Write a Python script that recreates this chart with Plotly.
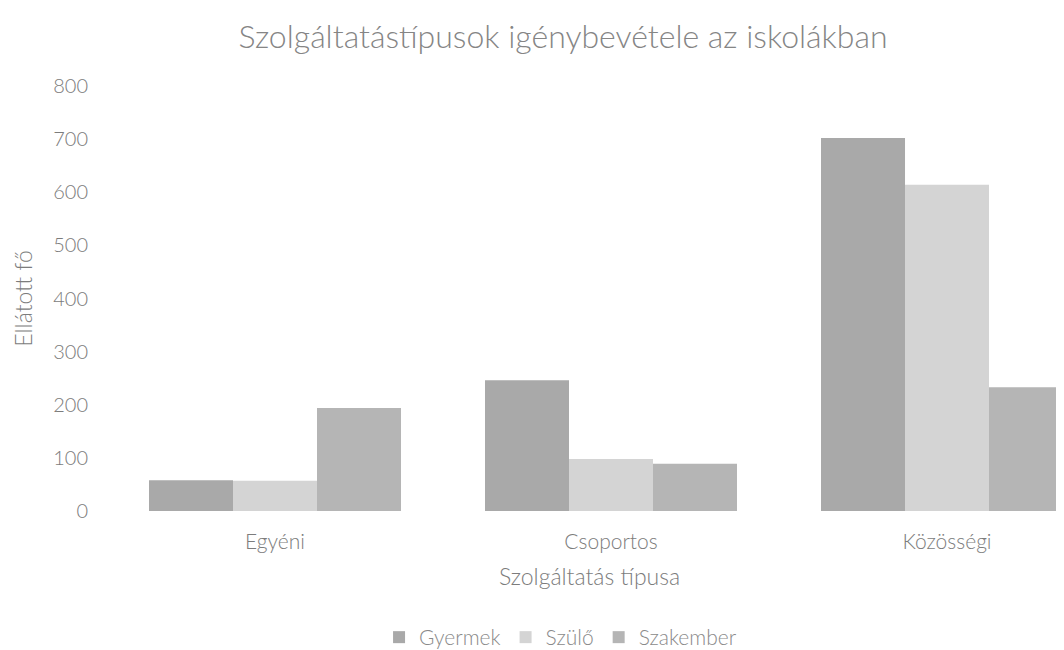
import plotly.graph_objects as go

categories = ["Egyéni", "Csoportos", "Közösségi"]
series_names = ["Gyermek", "Szülő", "Szakember"]
gyermek = [58, 246, 702]
szulo = [57, 98, 614]
szakember = [194, 89, 233]
y_ticks = [0, 100, 200, 300, 400, 500, 600, 700, 800]

colors = ["#a9a9a9", "#d4d4d4", "#b5b5b5"]
FONT = "Lato"
TXT = "#7c7c7c"

fig = go.Figure()
for name, vals, col in zip(series_names, [gyermek, szulo, szakember], colors):
    fig.add_trace(go.Bar(name=name, x=categories, y=vals, marker=dict(color=col, line=dict(width=0))))

fig.update_layout(
    width=1064, height=650,
    barmode="group", bargap=0.25, bargroupgap=0,
    paper_bgcolor="white", plot_bgcolor="white",
    margin=dict(l=99, r=0, t=78, b=141),
    font=dict(family=FONT, color=TXT, size=20, weight=300),
    title=dict(text="Szolgáltatástípusok igénybevétele az iskolákban",
               x=555/1064, xanchor="center", y=1-29/650, yanchor="middle",
               font=dict(family=FONT, size=32, color="#858585", weight=300)),
    legend=dict(orientation="h", x=0.47, xanchor="center", y=-0.299, yanchor="middle",
                font=dict(family=FONT, size=21, color="#8a8a8a", weight=300),
                traceorder="normal", itemwidth=30),
    showlegend=True,
)
fig.update_xaxes(
    range=[-0.5, 2.372], showgrid=False, zeroline=False, showline=False,
    ticks="outside", ticklen=12, tickcolor="rgba(0,0,0,0)",
    tickfont=dict(size=21, color=TXT, weight=300),
    title=dict(text="Szolgáltatás típusa", standoff=16, font=dict(size=23, color=TXT, weight=300)),
)
fig.update_yaxes(
    range=[0, 800], tickvals=y_ticks, showgrid=False, zeroline=False, showline=False,
    ticks="outside", ticklen=14, tickcolor="rgba(0,0,0,0)",
    tickfont=dict(size=20, color=TXT, weight=300),
    title=dict(text="Ellátott fő", standoff=14, font=dict(size=23, color=TXT, weight=300)),
)

fig.write_html("out.html")
